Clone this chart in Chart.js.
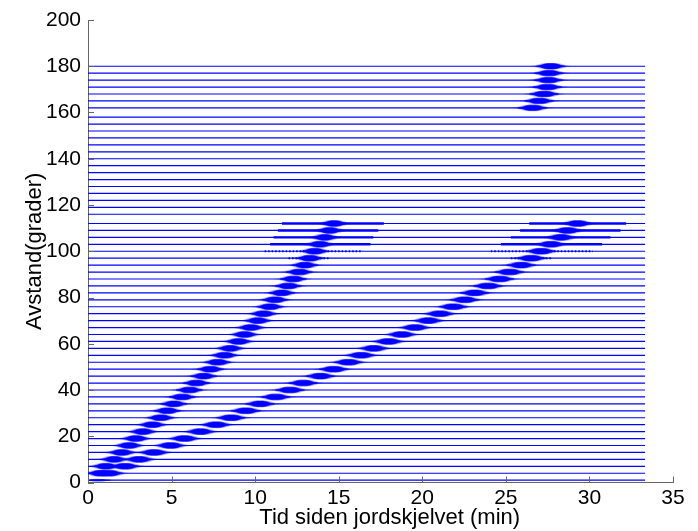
<!DOCTYPE html>
<html>
<head>
<meta charset="utf-8">
<title>Avstand / tid</title>
<script src="https://cdn.jsdelivr.net/npm/chart.js@4.4.0/dist/chart.umd.min.js"></script>
<style>
  html, body { margin: 0; padding: 0; background: #fff; }
</style>
</head>
<body>
<canvas id="recordSection" width="698" height="531"></canvas>
<script>
// distances (degrees) of every trace in the section
var traceDist = [1, 4, 7, 10, 13, 16, 19, 22, 25, 28, 31, 34, 37, 40, 43, 46, 49, 52, 55, 58,
    61, 64, 67, 70, 73, 76, 79, 82, 85, 88, 91, 94, 97, 100, 103, 106, 109, 112,
    116, 119, 122, 125, 128, 131, 134, 137, 140, 143, 146, 149, 152, 155, 158,
    162, 165, 168, 171, 174, 177, 180];
var traceEnd = 33.33; // min, every trace is 2000 s long

// first branch of wave packets (P)
var pDist = [4, 7, 10, 13, 16, 19, 22, 25, 28, 31, 34, 37, 40, 43, 46, 49, 52, 55, 58,
    61, 64, 67, 70, 73, 76, 79, 82, 85, 88, 91, 94, 97, 100, 103, 106, 109, 112];
var pTime = [0.75, 1.07, 1.57, 2.02, 2.46, 2.86, 3.29, 3.85, 4.35, 4.74, 5.14, 5.63, 6.07, 6.49,
    6.92, 7.32, 7.76, 8.17, 8.51, 9.01, 9.37, 9.74, 10.16, 10.50, 10.89, 11.19, 11.59, 11.98,
    12.28, 12.64, 12.98, 13.27, 13.57, 13.87, 14.17, 14.46, 14.72];

// second branch (S)
var sDist = pDist;
var sTime = [1.25, 2.22, 3.06, 3.95, 4.94, 5.77, 6.73, 7.66, 8.57, 9.44, 10.30, 11.23, 12.08, 12.88,
    13.90, 14.70, 15.58, 16.34, 17.10, 17.98, 18.77, 19.57, 20.36, 21.05, 21.85, 22.54, 23.14,
    23.93, 24.62, 25.22, 25.91, 26.51, 27.10, 27.70, 28.30, 28.69, 29.29];

// packets near the antipode
var kDist = [162, 165, 168, 171, 174, 177, 180];
var kTime = [26.60, 27.00, 27.29, 27.49, 27.55, 27.59, 27.69];

// weak wiggles on the nearest trace
var weakDist = [1];
var weakTime = [0.6];

// long low wave trains on the far traces
var codaDist = [112, 109, 106, 103, 100, 97];
var pCodaStart = [11.60, 11.36, 11.10, 10.90, 10.57, 12.00];
var pCodaEnd = [17.70, 17.37, 17.07, 16.90, 16.44, 14.50];
var sCodaStart = [26.40, 25.85, 25.30, 24.70, 24.10, 25.30];
var sCodaEnd = [32.20, 31.86, 31.26, 30.76, 30.20, 27.70];
var codaStrong = [true, true, true, true, false, false];

var xTicks = [0, 5, 10, 15, 20, 25, 30, 35];
var yTicks = [0, 20, 40, 60, 80, 100, 120, 140, 160, 180, 200];

var BLUE = '#0000ff';

// envelope of one packet, relative to its centre
var envPos = [-1.6, -1.1, -0.7, -0.3, 0, 0.3, 0.7, 1.1, 1.6];
var envAmp = [0, 0.35, 0.8, 1, 1, 1, 0.8, 0.35, 0];

function envelope(d, t, halfW, amp) {
    var pts = [];
    for (var i = 0; i < envPos.length; i++) {
        pts.push({ x: t + envPos[i] * halfW, y: d + envAmp[i] * amp });
    }
    for (var j = envPos.length - 1; j >= 0; j--) {
        pts.push({ x: t + envPos[j] * halfW, y: d - envAmp[j] * amp });
    }
    pts.push(pts[0]);
    return pts;
}

function packet(d, t, halfW, amp, out) {
    // faint halo of loose wiggles around the packet
    out.push({
        data: envelope(d, t, halfW * 1.45, amp * 1.25),
        borderWidth: 0,
        backgroundColor: 'rgba(0,0,255,0.28)',
        fill: 'shape',
        pointRadius: 0
    });
    out.push({
        data: envelope(d, t, halfW, amp),
        borderColor: BLUE,
        backgroundColor: BLUE,
        borderWidth: 0.6,
        fill: 'shape',
        pointRadius: 0
    });
}

var datasets = [];

traceDist.forEach(function (d) {
    datasets.push({
        data: [{ x: 0, y: d }, { x: traceEnd, y: d }],
        borderColor: BLUE,
        borderWidth: 1.2,
        pointRadius: 0,
        fill: false
    });
});

codaDist.forEach(function (d, i) {
    [[pCodaStart[i], pCodaEnd[i]], [sCodaStart[i], sCodaEnd[i]]].forEach(function (seg) {
        datasets.push({
            data: [{ x: seg[0], y: d }, { x: seg[1], y: d }],
            borderColor: BLUE,
            borderWidth: codaStrong[i] ? 2.4 : 2,
            borderDash: codaStrong[i] ? [] : [1.5, 2],
            pointRadius: 0,
            fill: false
        });
    });
});

pDist.forEach(function (d, i) { packet(d, pTime[i], 0.5, 1.2, datasets); });
sDist.forEach(function (d, i) { packet(d, sTime[i], 0.55, 1.2, datasets); });
kDist.forEach(function (d, i) { packet(d, kTime[i], 0.55, 1.15, datasets); });
weakDist.forEach(function (d, i) { packet(d, weakTime[i], 0.45, 0.35, datasets); });

// MATLAB style ticks pointing into the axes
var innerTicks = {
    id: 'innerTicks',
    afterDraw: function (chart) {
        var ctx = chart.ctx, a = chart.chartArea;
        var xs = chart.scales.x, ys = chart.scales.y;
        ctx.save();
        ctx.strokeStyle = '#666';
        ctx.lineWidth = 1;
        ctx.beginPath();
        xTicks.forEach(function (v) {
            var px = Math.round(xs.getPixelForValue(v)) + 0.5;
            ctx.moveTo(px, a.bottom);
            ctx.lineTo(px, a.bottom - 6);
        });
        yTicks.forEach(function (v) {
            var py = Math.round(ys.getPixelForValue(v)) + 0.5;
            ctx.moveTo(a.left, py);
            ctx.lineTo(a.left + 6, py);
        });
        ctx.stroke();
        ctx.restore();
    }
};

Chart.defaults.font.family = '"Liberation Sans", Arial, Helvetica, sans-serif';
Chart.defaults.font.size = 21;
Chart.defaults.color = '#000';

new Chart(document.getElementById('recordSection'), {
    type: 'line',
    data: { datasets: datasets },
    options: {
        responsive: false,
        animation: false,
        events: [],
        layout: { padding: { top: 20, right: 25, left: 0, bottom: 0 } },
        plugins: {
            legend: { display: false },
            tooltip: { enabled: false }
        },
        scales: {
            x: {
                type: 'linear',
                min: 0,
                max: 35,
                afterBuildTicks: function (scale) {
                    scale.ticks = xTicks.map(function (v) { return { value: v }; });
                },
                afterFit: function (scale) { scale.height = 48.5; },
                ticks: { padding: 3, maxRotation: 0 },
                grid: { drawOnChartArea: false, drawTicks: false },
                border: { display: true, color: '#666', width: 1 },
                title: {
                    display: true,
                    // leading spaces nudge the label a little to the right, as in the original
                    text: '   Tid siden jordskjelvet (min)',
                    font: { size: 22 },
                    padding: { top: -2, bottom: 0 }
                }
            },
            y: {
                type: 'linear',
                min: 0,
                max: 200,
                afterBuildTicks: function (scale) {
                    scale.ticks = yTicks.map(function (v) { return { value: v }; });
                },
                afterFit: function (scale) { scale.width = 88; },
                ticks: { padding: 7 },
                grid: { drawOnChartArea: false, drawTicks: false },
                border: { display: true, color: '#666', width: 1 },
                title: {
                    display: true,
                    text: 'Avstand(grader)',
                    font: { size: 22 },
                    padding: { top: 22, bottom: 0 }
                }
            }
        }
    },
    plugins: [innerTicks]
});
</script>
</body>
</html>
